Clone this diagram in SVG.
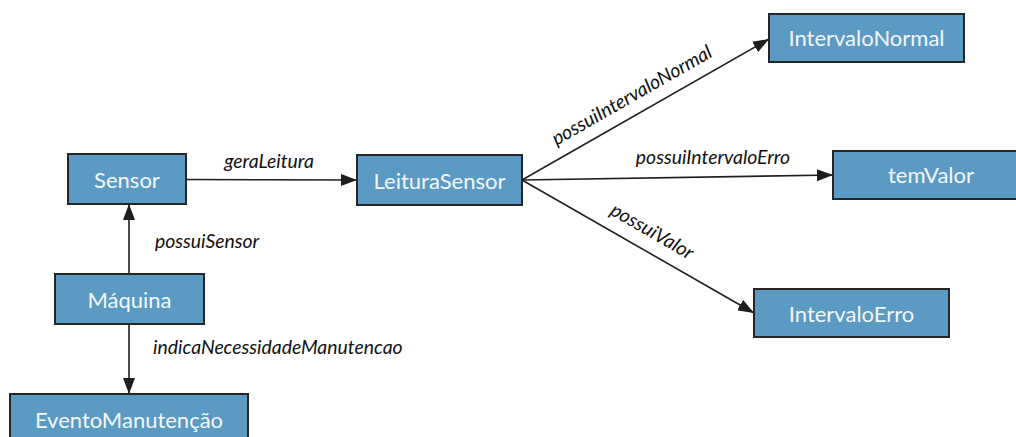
<svg xmlns="http://www.w3.org/2000/svg" width="1016" height="437" viewBox="0 0 1016 437">
  <style>
    .box { fill: #5b9ac3; stroke: #262626; stroke-width: 2; }
    .name { font-family: Lato, "Liberation Sans", sans-serif; font-size: 22px; fill: #f4f7fa; text-anchor: middle; }
    .edge { stroke: #1e1e1e; stroke-width: 1.6; fill: none; marker-end: url(#arrow); }
    .rel { font-family: Lato, "Liberation Sans", sans-serif; font-style: italic; font-size: 19.4px; fill: #111; }
  </style>
  <defs>
    <marker id="arrow" markerUnits="userSpaceOnUse" markerWidth="16" markerHeight="12" refX="16" refY="6" orient="auto">
      <path d="M0,0 L16,6 L0,12 Z" fill="#1e1e1e"/>
    </marker>
  </defs>
  <rect width="1016" height="437" fill="#ffffff"/>

  <g id="connectors">
    <line class="edge" x1="186" y1="179.5" x2="357" y2="180"/>
    <line class="edge" x1="129" y1="274" x2="129" y2="204"/>
    <line class="edge" x1="129" y1="324" x2="129" y2="394"/>
    <line class="edge" x1="522" y1="180" x2="769" y2="39"/>
    <line class="edge" x1="522" y1="180" x2="833" y2="175"/>
    <line class="edge" x1="522" y1="180" x2="754" y2="313"/>
    <text class="rel" x="269" y="168" text-anchor="middle">geraLeitura</text>
    <text class="rel" x="155" y="248">possuiSensor</text>
    <text class="rel" x="153" y="354">indicaNecessidadeManutencao</text>
    <text class="rel" x="713" y="164" text-anchor="middle">possuiIntervaloErro</text>
    <text class="rel" text-anchor="middle" transform="translate(635,101) rotate(-29.7)">possuiIntervaloNormal</text>
    <text class="rel" text-anchor="middle" transform="translate(649,237) rotate(29.9)">possuiValor</text>
  </g>

  <g id="sensor">
    <rect class="box" x="68" y="154" width="118" height="50"/>
    <text class="name" x="127" y="187.5">Sensor</text>
  </g>
  <g id="leitura-sensor">
    <rect class="box" x="357" y="155" width="165" height="50"/>
    <text class="name" x="439.5" y="188.5">LeituraSensor</text>
  </g>
  <g id="intervalo-normal">
    <rect class="box" x="769" y="14" width="195" height="48"/>
    <text class="name" x="866.5" y="45.5">IntervaloNormal</text>
  </g>
  <g id="tem-valor">
    <rect class="box" x="833" y="151" width="196" height="48"/>
    <text class="name" x="931" y="183">temValor</text>
  </g>
  <g id="intervalo-erro">
    <rect class="box" x="754" y="289" width="195" height="48"/>
    <text class="name" x="851.5" y="321.5">IntervaloErro</text>
  </g>
  <g id="maquina">
    <rect class="box" x="55" y="274" width="149" height="50"/>
    <text class="name" x="129.5" y="307.5">Máquina</text>
  </g>
  <g id="evento-manutencao">
    <rect class="box" x="10" y="394" width="238" height="50"/>
    <text class="name" x="129" y="428">EventoManutenção</text>
  </g>
</svg>
